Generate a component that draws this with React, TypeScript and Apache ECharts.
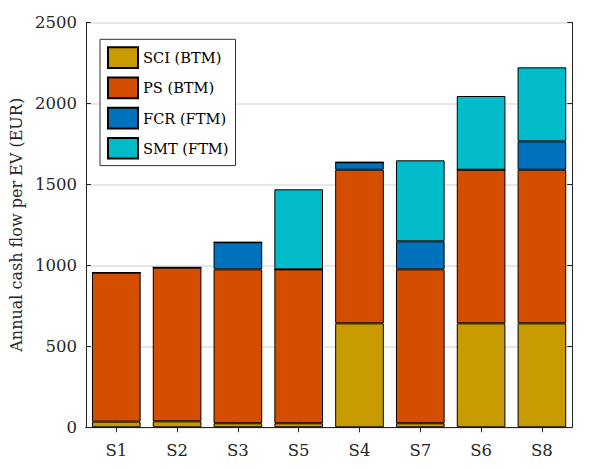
import React, { useEffect, useRef } from "react";
import * as echarts from "echarts";

const categories = ["S1", "S2", "S3", "S5", "S4", "S7", "S6", "S8"];
const sciBTM = [35, 37, 25, 25, 642, 25, 642, 642];
const psBTM = [920, 948, 950, 950, 948, 950, 948, 948];
const fcrFTM = [0, 2, 167, 0, 46, 173, 0, 175];
const smtFTM = [0, 0, 0, 494, 0, 500, 455, 457];
const seriesNames = ["SCI (BTM)", "PS (BTM)", "FCR (FTM)", "SMT (FTM)"];
const seriesColors = ["#C79A00", "#D54E00", "#0072BD", "#00BBC9"];
const yLabel = "Annual cash flow per EV (EUR)";

const FONT = "DejaVu Serif";
const AX = "#262626";

export default function App() {
  const ref = useRef<HTMLDivElement>(null);
  useEffect(() => {
    if (!ref.current) return;
    const chart = echarts.init(ref.current, undefined, { renderer: "svg" });
    const values = [sciBTM, psBTM, fcrFTM, smtFTM];
    const tick = { show: true, inside: true, length: 5, lineStyle: { color: AX, width: 1 } };
    chart.setOption({
      animation: false,
      backgroundColor: "#ffffff",
      grid: { left: 83, right: 16.7, top: 22.3, bottom: 41.7, containLabel: false },
      legend: {
        orient: "vertical",
        left: 100,
        top: 39.3,
        padding: [7, 7, 6, 7],
        itemWidth: 30,
        itemHeight: 20.7,
        itemGap: 7.5,
        icon: "rect",
        borderColor: "#333",
        borderWidth: 1,
        backgroundColor: "#ffffff",
        textStyle: { fontFamily: FONT, fontSize: 14.6, color: "#000" },
        data: seriesNames,
      },
      xAxis: [
        {
          type: "category",
          data: categories,
          position: "bottom",
          boundaryGap: true,
          axisLine: { show: true, lineStyle: { color: AX, width: 1 } },
          axisTick: { ...tick, alignWithLabel: true },
          axisLabel: { fontFamily: FONT, fontSize: 16.5, color: AX, margin: 15 },
          splitLine: { show: false },
        },
        {
          type: "category",
          data: categories,
          position: "top",
          boundaryGap: true,
          axisLine: { show: true, lineStyle: { color: AX, width: 1 } },
          axisTick: { ...tick, alignWithLabel: true },
          axisLabel: { show: false },
          splitLine: { show: false },
        },
      ],
      yAxis: [
        {
          type: "value",
          position: "left",
          min: 0,
          max: 2500,
          interval: 500,
          name: yLabel,
          nameLocation: "middle",
          nameGap: 61,
          nameTextStyle: { fontFamily: FONT, fontSize: 16, color: AX },
          axisLine: { show: true, lineStyle: { color: AX, width: 1 } },
          axisTick: tick,
          axisLabel: {
            fontFamily: FONT,
            fontSize: 16.5,
            color: AX,
            margin: 9,
            formatter: (v: number) => String(v),
          },
          splitLine: { show: true, lineStyle: { color: "#dfdfdf", width: 1.5 } },
        },
        {
          type: "value",
          position: "right",
          min: 0,
          max: 2500,
          interval: 500,
          axisLine: { show: true, lineStyle: { color: AX, width: 1 } },
          axisTick: tick,
          axisLabel: { show: false },
          splitLine: { show: false },
        },
      ],
      series: seriesNames.map((name, i) => ({
        name,
        type: "bar",
        stack: "total",
        xAxisIndex: 0,
        yAxisIndex: 0,
        barCategoryGap: "20%",
        data: values[i],
        itemStyle: { color: seriesColors[i], borderColor: "#000", borderWidth: 1 },
        emphasis: { disabled: true },
      })),
    });
    return () => chart.dispose();
  }, []);
  return (
    <div
      ref={ref}
      style={{ position: "fixed", left: 0, top: 0, width: 589, height: 469, background: "#fff" }}
    />
  );
}
